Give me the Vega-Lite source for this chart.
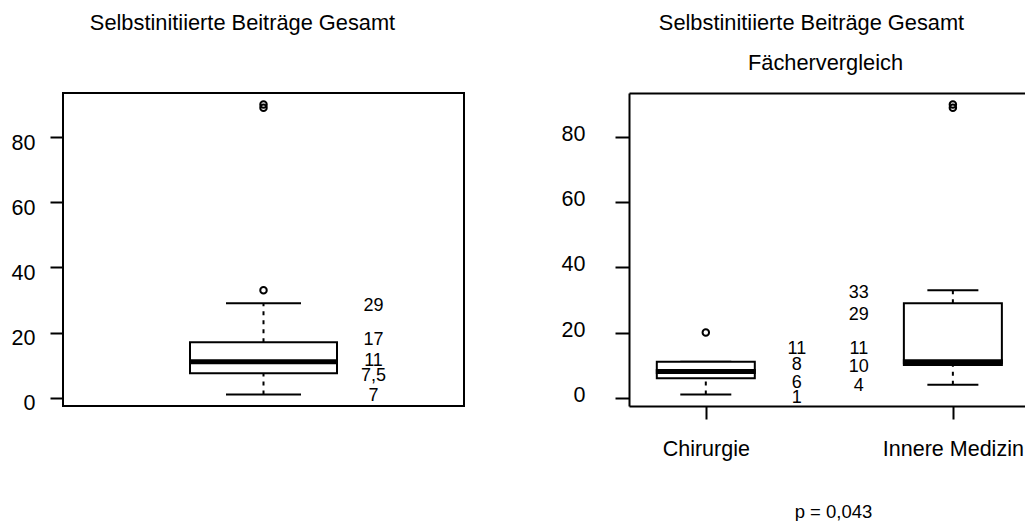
{
  "$schema": "https://vega.github.io/schema/vega-lite/v6.json",
  "usermeta": {"embedOptions": {"actions": false}},
  "padding": {"left": 10, "top": 12, "right": 0, "bottom": 0},
  "background": "white",
  "config": {
    "font": "Liberation Sans",
    "title": {"fontSize": 21.8, "fontWeight": "normal", "color": "black", "anchor": "middle", "frame": "group", "baseline": "alphabetic", "font": "Liberation Sans"},
    "axis": {"labelFont": "Liberation Sans", "titleFont": "Liberation Sans", "labelColor": "black", "titleColor": "black", "grid": false, "titleFontWeight": "normal", "tickColor": "black", "domainColor": "black"}
  },
  "datasets": {
    "gesamt_box": [
      {"gruppe": "Gesamt", "lo": 1, "q1": 7.5, "median": 11, "q3": 17, "hi": 29}
    ],
    "gesamt_out": [
      {"gruppe": "Gesamt", "wert": 33},
      {"gruppe": "Gesamt", "wert": 89},
      {"gruppe": "Gesamt", "wert": 90}
    ],
    "gesamt_lab": [
      {"gruppe": "Gesamt", "beschriftung": "29", "hoehe": 28.1},
      {"gruppe": "Gesamt", "beschriftung": "17", "hoehe": 17.7},
      {"gruppe": "Gesamt", "beschriftung": "11", "hoehe": 11.4},
      {"gruppe": "Gesamt", "beschriftung": "7,5", "hoehe": 6.7},
      {"gruppe": "Gesamt", "beschriftung": "7", "hoehe": 0.4}
    ],
    "fach_box": [
      {"fach": "Chirurgie", "lo": 1, "q1": 6, "median": 8, "q3": 11, "hi": 11},
      {"fach": "Innere Medizin", "lo": 4, "q1": 10, "median": 11, "q3": 29, "hi": 33}
    ],
    "fach_out": [
      {"fach": "Chirurgie", "wert": 20},
      {"fach": "Innere Medizin", "wert": 89},
      {"fach": "Innere Medizin", "wert": 90}
    ],
    "fach_lab": [
      {"fach": "Chirurgie", "beschriftung": "11", "hoehe": 15.0},
      {"fach": "Chirurgie", "beschriftung": "8", "hoehe": 9.9},
      {"fach": "Chirurgie", "beschriftung": "6", "hoehe": 4.6},
      {"fach": "Chirurgie", "beschriftung": "1", "hoehe": 0.0},
      {"fach": "Innere Medizin", "beschriftung": "33", "hoehe": 32.0},
      {"fach": "Innere Medizin", "beschriftung": "29", "hoehe": 25.3},
      {"fach": "Innere Medizin", "beschriftung": "11", "hoehe": 15.0},
      {"fach": "Innere Medizin", "beschriftung": "10", "hoehe": 9.4},
      {"fach": "Innere Medizin", "beschriftung": "4", "hoehe": 3.5}
    ]
  },
  "bounds": "flush",
  "spacing": 165,
  "hconcat": [
    {
      "width": 401,
      "height": 313,
      "view": {"stroke": "black", "strokeWidth": 2},
      "title": {"text": "Selbstinitiierte Beiträge Gesamt", "dx": -21, "offset": 57.8},
      "layer": [
        {
          "data": {"name": "gesamt_box"},
          "mark": {"type": "rule", "color": "black", "strokeWidth": 2, "strokeDash": [4, 5]},
          "encoding": {
            "x": {"field": "gruppe", "type": "nominal", "scale": {"type": "point"}, "axis": null},
            "y": {"field": "q3", "type": "quantitative", "scale": {"domain": [-2.56, 93.56], "nice": false, "zero": false},
              "axis": {"values": [0, 20, 40, 60, 80], "title": null, "domain": false, "tickSize": 13, "tickWidth": 2, "labelFontSize": 21.5, "labelPadding": 15, "labelOffset": 6}},
            "y2": {"field": "hi"}
          }
        },
        {
          "data": {"name": "gesamt_box"},
          "mark": {"type": "rule", "color": "black", "strokeWidth": 2, "strokeDash": [4, 5]},
          "encoding": {
            "x": {"field": "gruppe", "type": "nominal", "scale": {"type": "point"}, "axis": null},
            "y": {"field": "lo", "type": "quantitative", "scale": {"domain": [-2.56, 93.56], "nice": false, "zero": false},
              "axis": {"values": [0, 20, 40, 60, 80], "title": null, "domain": false, "tickSize": 13, "tickWidth": 2, "labelFontSize": 21.5, "labelPadding": 15, "labelOffset": 6}},
            "y2": {"field": "q1"}
          }
        },
        {
          "data": {"name": "gesamt_box"},
          "mark": {"type": "tick", "orient": "horizontal", "color": "black", "opacity": 1, "size": 75, "thickness": 2},
          "encoding": {
            "x": {"field": "gruppe", "type": "nominal", "scale": {"type": "point"}, "axis": null},
            "y": {"field": "hi", "type": "quantitative", "scale": {"domain": [-2.56, 93.56], "nice": false, "zero": false},
              "axis": {"values": [0, 20, 40, 60, 80], "title": null, "domain": false, "tickSize": 13, "tickWidth": 2, "labelFontSize": 21.5, "labelPadding": 15, "labelOffset": 6}}
          }
        },
        {
          "data": {"name": "gesamt_box"},
          "mark": {"type": "tick", "orient": "horizontal", "color": "black", "opacity": 1, "size": 75, "thickness": 2},
          "encoding": {
            "x": {"field": "gruppe", "type": "nominal", "scale": {"type": "point"}, "axis": null},
            "y": {"field": "lo", "type": "quantitative", "scale": {"domain": [-2.56, 93.56], "nice": false, "zero": false},
              "axis": {"values": [0, 20, 40, 60, 80], "title": null, "domain": false, "tickSize": 13, "tickWidth": 2, "labelFontSize": 21.5, "labelPadding": 15, "labelOffset": 6}}
          }
        },
        {
          "data": {"name": "gesamt_box"},
          "mark": {"type": "bar", "width": 147, "fill": "white", "stroke": "black", "strokeWidth": 2, "opacity": 1},
          "encoding": {
            "x": {"field": "gruppe", "type": "nominal", "scale": {"type": "point"}, "axis": null},
            "y": {"field": "q1", "type": "quantitative", "scale": {"domain": [-2.56, 93.56], "nice": false, "zero": false},
              "axis": {"values": [0, 20, 40, 60, 80], "title": null, "domain": false, "tickSize": 13, "tickWidth": 2, "labelFontSize": 21.5, "labelPadding": 15, "labelOffset": 6}},
            "y2": {"field": "q3"}
          }
        },
        {
          "data": {"name": "gesamt_box"},
          "mark": {"type": "tick", "orient": "horizontal", "color": "black", "opacity": 1, "size": 149, "thickness": 5},
          "encoding": {
            "x": {"field": "gruppe", "type": "nominal", "scale": {"type": "point"}, "axis": null},
            "y": {"field": "median", "type": "quantitative", "scale": {"domain": [-2.56, 93.56], "nice": false, "zero": false},
              "axis": {"values": [0, 20, 40, 60, 80], "title": null, "domain": false, "tickSize": 13, "tickWidth": 2, "labelFontSize": 21.5, "labelPadding": 15, "labelOffset": 6}}
          }
        },
        {
          "data": {"name": "gesamt_out"},
          "mark": {"type": "point", "shape": "circle", "filled": false, "stroke": "black", "strokeWidth": 2, "size": 42, "opacity": 1},
          "encoding": {
            "x": {"field": "gruppe", "type": "nominal", "scale": {"type": "point"}, "axis": null},
            "y": {"field": "wert", "type": "quantitative", "scale": {"domain": [-2.56, 93.56], "nice": false, "zero": false},
              "axis": {"values": [0, 20, 40, 60, 80], "title": null, "domain": false, "tickSize": 13, "tickWidth": 2, "labelFontSize": 21.5, "labelPadding": 15, "labelOffset": 6}}
          }
        },
        {
          "data": {"name": "gesamt_lab"},
          "mark": {"type": "text", "dx": 110, "align": "center", "baseline": "middle", "fontSize": 18, "color": "black"},
          "encoding": {
            "x": {"field": "gruppe", "type": "nominal", "scale": {"type": "point"}, "axis": null},
            "y": {"field": "hoehe", "type": "quantitative", "scale": {"domain": [-2.56, 93.56], "nice": false, "zero": false},
              "axis": {"values": [0, 20, 40, 60, 80], "title": null, "domain": false, "tickSize": 13, "tickWidth": 2, "labelFontSize": 21.5, "labelPadding": 15, "labelOffset": 6}},
            "text": {"field": "beschriftung"}
          }
        }
      ]
    },
    {
      "width": 396,
      "height": 313,
      "view": {"stroke": null},
      "title": {"text": "Selbstinitiierte Beiträge Gesamt", "dx": -15.5, "offset": 18.1},
      "resolve": {"axis": {"x": "independent"}},
      "layer": [
        {
          "data": {"name": "fach_box"},
          "mark": {"type": "rule", "color": "black", "strokeWidth": 2, "strokeDash": [4, 5]},
          "encoding": {
            "x": {"field": "fach", "type": "nominal", "scale": {"type": "point", "domain": ["Chirurgie", "Innere Medizin"], "padding": 0.3014, "align": 0.5157}, "axis": null},
            "y": {"field": "q3", "type": "quantitative", "scale": {"domain": [-2.56, 93.56], "nice": false, "zero": false},
              "axis": {"values": [0, 20, 40, 60, 80], "title": null, "domain": true, "domainWidth": 2, "tickSize": 14, "tickWidth": 2, "labelFontSize": 21.5, "labelPadding": 30, "labelOffset": -2.5}},
            "y2": {"field": "hi"}
          }
        },
        {
          "data": {"name": "fach_box"},
          "mark": {"type": "rule", "color": "black", "strokeWidth": 2, "strokeDash": [4, 5]},
          "encoding": {
            "x": {"field": "fach", "type": "nominal", "scale": {"type": "point", "domain": ["Chirurgie", "Innere Medizin"], "padding": 0.3014, "align": 0.5157}, "axis": null},
            "y": {"field": "lo", "type": "quantitative", "scale": {"domain": [-2.56, 93.56], "nice": false, "zero": false},
              "axis": {"values": [0, 20, 40, 60, 80], "title": null, "domain": true, "domainWidth": 2, "tickSize": 14, "tickWidth": 2, "labelFontSize": 21.5, "labelPadding": 30, "labelOffset": -2.5}},
            "y2": {"field": "q1"}
          }
        },
        {
          "data": {"name": "fach_box"},
          "mark": {"type": "tick", "orient": "horizontal", "color": "black", "opacity": 1, "size": 51, "thickness": 2},
          "encoding": {
            "x": {"field": "fach", "type": "nominal", "scale": {"type": "point", "domain": ["Chirurgie", "Innere Medizin"], "padding": 0.3014, "align": 0.5157}, "axis": null},
            "y": {"field": "hi", "type": "quantitative", "scale": {"domain": [-2.56, 93.56], "nice": false, "zero": false},
              "axis": {"values": [0, 20, 40, 60, 80], "title": null, "domain": true, "domainWidth": 2, "tickSize": 14, "tickWidth": 2, "labelFontSize": 21.5, "labelPadding": 30, "labelOffset": -2.5}}
          }
        },
        {
          "data": {"name": "fach_box"},
          "mark": {"type": "tick", "orient": "horizontal", "color": "black", "opacity": 1, "size": 51, "thickness": 2},
          "encoding": {
            "x": {"field": "fach", "type": "nominal", "scale": {"type": "point", "domain": ["Chirurgie", "Innere Medizin"], "padding": 0.3014, "align": 0.5157}, "axis": null},
            "y": {"field": "lo", "type": "quantitative", "scale": {"domain": [-2.56, 93.56], "nice": false, "zero": false},
              "axis": {"values": [0, 20, 40, 60, 80], "title": null, "domain": true, "domainWidth": 2, "tickSize": 14, "tickWidth": 2, "labelFontSize": 21.5, "labelPadding": 30, "labelOffset": -2.5}}
          }
        },
        {
          "data": {"name": "fach_box"},
          "mark": {"type": "bar", "width": 98, "fill": "white", "stroke": "black", "strokeWidth": 2, "opacity": 1},
          "encoding": {
            "x": {"field": "fach", "type": "nominal", "scale": {"type": "point", "domain": ["Chirurgie", "Innere Medizin"], "padding": 0.3014, "align": 0.5157},
              "axis": {"orient": "bottom", "domain": true, "domainWidth": 2, "tickSize": 13, "tickWidth": 2, "labelFontSize": 21.5, "labelAngle": 0, "labelBaseline": "alphabetic", "labelPadding": 36.6,
                "title": "p = 0,043", "titleFontSize": 18.5, "titleX": 204, "titleY": 111.5, "titleBaseline": "alphabetic", "titleAlign": "center", "titleAnchor": null}},
            "y": {"field": "q1", "type": "quantitative", "scale": {"domain": [-2.56, 93.56], "nice": false, "zero": false},
              "axis": {"values": [0, 20, 40, 60, 80], "title": null, "domain": true, "domainWidth": 2, "tickSize": 14, "tickWidth": 2, "labelFontSize": 21.5, "labelPadding": 30, "labelOffset": -2.5}},
            "y2": {"field": "q3"}
          }
        },
        {
          "data": {"name": "fach_box"},
          "mark": {"type": "tick", "orient": "horizontal", "color": "black", "opacity": 1, "size": 100, "thickness": 5},
          "encoding": {
            "x": {"field": "fach", "type": "nominal", "scale": {"type": "point", "domain": ["Chirurgie", "Innere Medizin"], "padding": 0.3014, "align": 0.5157},
              "axis": {"orient": "top", "domain": true, "domainWidth": 2, "ticks": false, "labels": false,
                "title": "Fächervergleich", "titleFontSize": 21.8, "titleX": 196, "titleY": -23.3, "titleBaseline": "alphabetic", "titleAlign": "center", "titleAnchor": null}},
            "y": {"field": "median", "type": "quantitative", "scale": {"domain": [-2.56, 93.56], "nice": false, "zero": false},
              "axis": {"values": [0, 20, 40, 60, 80], "title": null, "domain": true, "domainWidth": 2, "tickSize": 14, "tickWidth": 2, "labelFontSize": 21.5, "labelPadding": 30, "labelOffset": -2.5}}
          }
        },
        {
          "data": {"name": "fach_out"},
          "mark": {"type": "point", "shape": "circle", "filled": false, "stroke": "black", "strokeWidth": 2, "size": 42, "opacity": 1},
          "encoding": {
            "x": {"field": "fach", "type": "nominal", "scale": {"type": "point", "domain": ["Chirurgie", "Innere Medizin"], "padding": 0.3014, "align": 0.5157}, "axis": null},
            "y": {"field": "wert", "type": "quantitative", "scale": {"domain": [-2.56, 93.56], "nice": false, "zero": false},
              "axis": {"values": [0, 20, 40, 60, 80], "title": null, "domain": true, "domainWidth": 2, "tickSize": 14, "tickWidth": 2, "labelFontSize": 21.5, "labelPadding": 30, "labelOffset": -2.5}}
          }
        },
        {
          "data": {"name": "fach_lab"},
          "transform": [{"filter": "datum.fach === 'Chirurgie'"}],
          "mark": {"type": "text", "dx": 91, "align": "center", "baseline": "middle", "fontSize": 18, "color": "black"},
          "encoding": {
            "x": {"field": "fach", "type": "nominal", "scale": {"type": "point", "domain": ["Chirurgie", "Innere Medizin"], "padding": 0.3014, "align": 0.5157}, "axis": null},
            "y": {"field": "hoehe", "type": "quantitative", "scale": {"domain": [-2.56, 93.56], "nice": false, "zero": false},
              "axis": {"values": [0, 20, 40, 60, 80], "title": null, "domain": true, "domainWidth": 2, "tickSize": 14, "tickWidth": 2, "labelFontSize": 21.5, "labelPadding": 30, "labelOffset": -2.5}},
            "text": {"field": "beschriftung"}
          }
        },
        {
          "data": {"name": "fach_lab"},
          "transform": [{"filter": "datum.fach === 'Innere Medizin'"}],
          "mark": {"type": "text", "dx": -94, "align": "center", "baseline": "middle", "fontSize": 18, "color": "black"},
          "encoding": {
            "x": {"field": "fach", "type": "nominal", "scale": {"type": "point", "domain": ["Chirurgie", "Innere Medizin"], "padding": 0.3014, "align": 0.5157}, "axis": null},
            "y": {"field": "hoehe", "type": "quantitative", "scale": {"domain": [-2.56, 93.56], "nice": false, "zero": false},
              "axis": {"values": [0, 20, 40, 60, 80], "title": null, "domain": true, "domainWidth": 2, "tickSize": 14, "tickWidth": 2, "labelFontSize": 21.5, "labelPadding": 30, "labelOffset": -2.5}},
            "text": {"field": "beschriftung"}
          }
        }
      ]
    }
  ]
}
